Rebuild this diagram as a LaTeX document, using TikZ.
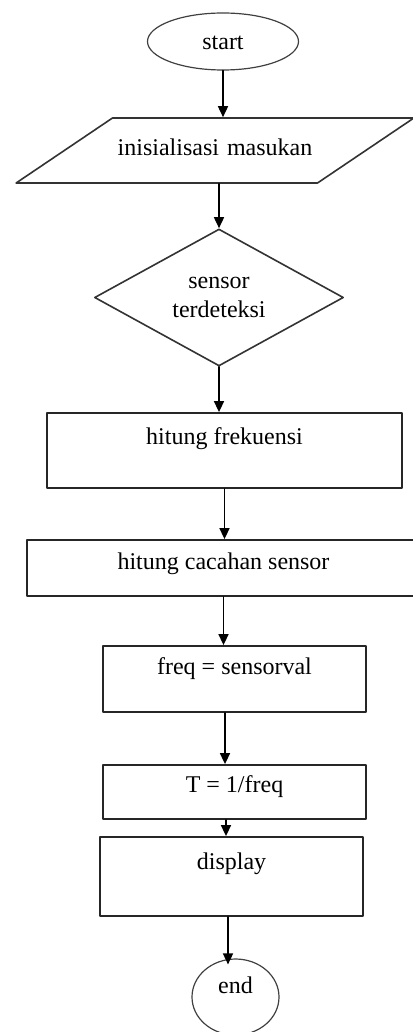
\documentclass[tikz,border=0pt]{standalone}
\usepackage{fontspec}
\setmainfont{Liberation Serif}
\usetikzlibrary{shapes.geometric,arrows.meta}

\begin{document}
\begin{tikzpicture}[x=0.5pt,y=-0.5pt,line cap=round,line join=round,
    >={Triangle[width=5pt,length=5.5pt]},
    font=\fontsize{12pt}{14.5pt}\selectfont,
    terminal/.style={ellipse,draw=black!75,line width=0.6pt,inner sep=0pt,text height=8pt},
    flowbox/.style={rectangle,draw=black!85,line width=0.9pt,inner sep=2pt,text height=8pt},
    decision/.style={diamond,draw=black!80,line width=0.8pt,inner sep=0pt,shape aspect=1.8,align=center},
    io/.style={trapezium,trapezium left angle=34,trapezium right angle=146,
      draw=black!80,line width=0.8pt,inner sep=0pt,align=center},
    flow/.style={->,line width=0.8pt}]
  \useasboundingbox (0,0) rectangle (412,1032);

  % Add Nodes
  \node[terminal,minimum width=75.5pt,minimum height=28.5pt] (start) at (223,41.5) {start};
  \node[io,text width=102.5pt,text height=19pt,text depth=13.5pt] (input) at (215,150.5) {inisialisasi masukan};
  \node[decision,minimum width=124.5pt,minimum height=68.5pt] (sensor) at (219,297.5) {sensor\\terdeteksi};
  \node[flowbox,minimum width=177.5pt,minimum height=37.5pt,text depth=14.5pt] (hitfreq) at (224.5,450.5) {hitung frekuensi};
  \node[flowbox,minimum width=196.5pt,minimum height=28pt,text depth=7pt] (hitcacah) at (223.5,568) {hitung cacahan sensor};
  \node[flowbox,minimum width=131.5pt,minimum height=33pt,text depth=13pt] (freq) at (234.5,679) {freq = sensorval};
  \node[flowbox,minimum width=131.5pt,minimum height=27pt,text depth=8pt] (period) at (234.5,792) {T = 1/freq};
  \node[flowbox,minimum width=131.5pt,minimum height=39.5pt,text depth=15.5pt] (display) at (231.5,876.5) {display};
  \node[terminal,minimum width=43.5pt,minimum height=38pt,text depth=12pt] (stop) at (235.5,997) {end};

  % Add Arrows
  \draw[flow] (start.south) -- (start.south |- input.north);
  \draw[flow] (sensor.north |- input.south) -- (sensor.north);
  \draw[flow] (sensor.south) -- (sensor.south |- hitfreq.north);
  \draw[flow] (hitfreq.south) -- (hitfreq.south |- hitcacah.north);
  \draw[flow] (hitcacah.south) -- (hitcacah.south |- freq.north);
  \draw[flow] ([xshift=-4.75pt]freq.south) -- ([xshift=-4.75pt]freq.south |- period.north);
  \draw[flow] ([xshift=-4.25pt]period.south) -- ([xshift=-4.25pt]period.south |- display.north);
  \draw[flow] ([xshift=-1.75pt]display.south) -- ([xshift=-1.75pt,yshift=-3pt]display.south |- stop.north);
\end{tikzpicture}
\end{document}
